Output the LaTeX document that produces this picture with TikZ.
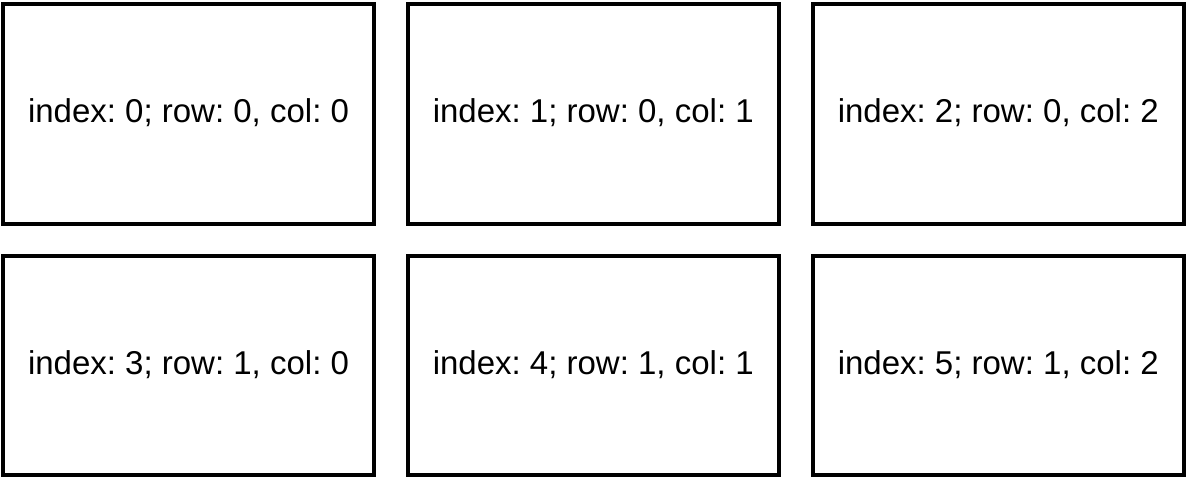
\documentclass[tikz,border=0pt]{standalone}
\usepackage{fontspec}
\setmainfont{Liberation Sans}
\begin{document}
\begin{tikzpicture}[x=1pt,y=-1pt,
  cell/.style={draw=black,line width=4pt,fill=white},
  lbl/.style={font=\fontsize{33}{40}\selectfont,inner sep=0pt,anchor=base}]
\useasboundingbox (0,0) rectangle (1188,479);
\foreach \r/\ya/\yb in {0/3.5/223.5,1/256/475}{
  \foreach \c/\xa/\xb in {0/3/374,1/407.5/779,2/812.5/1184}{
    \pgfmathtruncatemacro{\idx}{\r*3+\c}
    \draw[cell] (\xa,\ya) rectangle (\xb,\yb);
    \node[lbl] (n\idx) at ({(\xa+\xb)/2},{(\ya+\yb)/2+9}) {index:~\idx;~row:~\r,~col:~\c};
  }
}
\end{tikzpicture}
\end{document}
